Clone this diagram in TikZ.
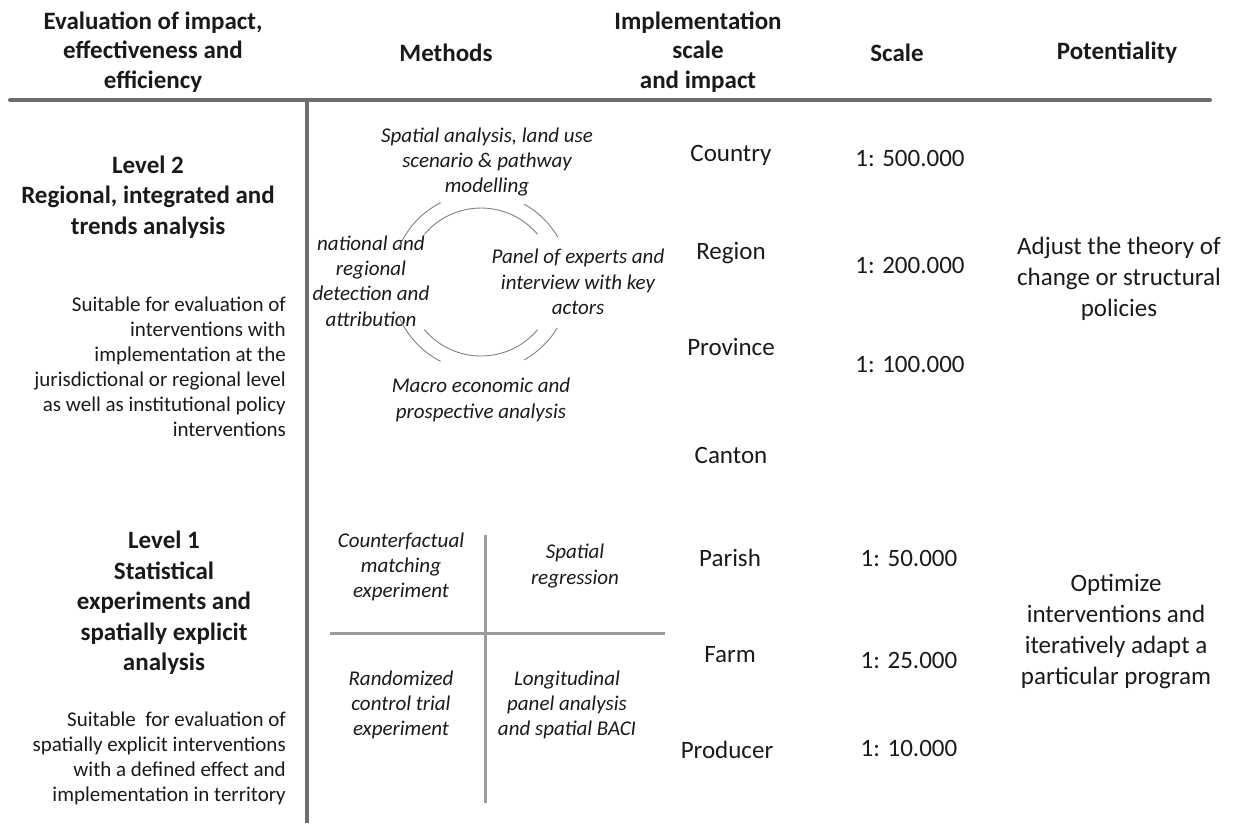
\documentclass[tikz,border=0pt]{standalone}
\usepackage{fontspec}
\setmainfont{Carlito}
\definecolor{rulegray}{HTML}{6E6E6E}
\definecolor{crossgray}{HTML}{9C9C9C}
\definecolor{arcgray}{HTML}{808080}
\definecolor{txt}{HTML}{1A1A1A}
\tikzset{
  hdr/.style={align=center,inner sep=0pt,text=txt,font=\fontsize{25}{29.5}\selectfont\bfseries},
  lvl/.style={align=center,inner sep=0pt,text=txt,font=\fontsize{25}{30.5}\selectfont\bfseries},
  desc/.style={align=right,anchor=east,inner sep=0pt,text=txt,font=\fontsize{21}{25}\selectfont},
  meth/.style={align=center,inner sep=0pt,text=txt,font=\fontsize{21}{25.3}\selectfont\itshape},
  scl/.style={align=center,inner sep=0pt,text=txt,font=\fontsize{25}{31}\selectfont},
  mainrule/.style={draw=rulegray,line width=4pt,line cap=round},
  crossrule/.style={draw=crossgray,line width=3pt},
  ringarc/.style={draw=arcgray,line width=0.9pt},
}
\begin{document}
\begin{tikzpicture}[x=1pt,y=-1pt]
\useasboundingbox (0,0) rectangle (1233,823);
% headers
\node[hdr] (hEval) at (153,52) {Evaluation of impact,\\effectiveness and\\efficiency};
\node[hdr] (hMeth) at (446,53) {Methods};
\node[hdr] (hImpl) at (698,52) {Implementation\\scale\\and impact};
\node[hdr] (hScale) at (897,53) {Scale};
\node[hdr] (hPot) at (1117,53) {Potentiality};
% rules
\coordinate (rL) at (10,100);
\coordinate (rR) at (1210,100);
\coordinate (vT) at (307,100);
\coordinate (vB) at (307,823);
\draw[mainrule] (rL) -- (rR);
\draw[draw=rulegray,line width=4pt] (vT) -- (vB);
% left column
\node[lvl] (lv2) at (148,197) {Level 2\\Regional, integrated and\\trends analysis};
\node[desc] (d2) at (286,367) {Suitable for evaluation of\\interventions with\\implementation at the\\jurisdictional or regional level\\as well as institutional policy\\interventions};
\node[lvl] (lv1) at (164,603) {Level 1\\Statistical\\experiments and\\spatially explicit\\analysis};
\node[desc] (d1) at (286,758) {Suitable\ \ for evaluation of\\spatially explicit interventions\\with a defined effect and\\implementation in territory};
% methods level 2
\coordinate (cc) at (481,282);
\node[meth] (mTop) at (487,162) {Spatial analysis, land use\\scenario \& pathway\\modelling};
\node[meth] (mLeft) at (371,281) {national and\\regional\\detection and\\attribution};
\node[meth] (mRight) at (578,282) {Panel of experts and\\interview with key\\actors};
\node[meth] (mBot) at (481,400) {Macro economic and\\prospective analysis};
\draw[ringarc] (cc) ++(40:74pt) arc[start angle=40,end angle=140,radius=74pt];
\draw[ringarc] (cc) ++(220:74pt) arc[start angle=220,end angle=320,radius=74pt];
\draw[ringarc] (cc) ++(30:89pt) arc[start angle=30,end angle=61,radius=89pt];
\draw[ringarc] (cc) ++(117:89pt) arc[start angle=117,end angle=157,radius=89pt];
\draw[ringarc] (cc) ++(203:89pt) arc[start angle=203,end angle=243,radius=89pt];
\draw[ringarc] (cc) ++(299:89pt) arc[start angle=299,end angle=329,radius=89pt];
% methods level 1
\coordinate (xT) at (485,535);
\coordinate (xB) at (485,803);
\coordinate (xL) at (330,633);
\coordinate (xR) at (665,633);
\draw[crossrule] (xT) -- (xB);
\draw[crossrule] (xL) -- (xR);
\node[meth] (mCF) at (401,567) {Counterfactual\\matching\\experiment};
\node[meth] (mSR) at (575,566) {Spatial\\regression};
\node[meth] (mRCT) at (401,705) {Randomized\\control trial\\experiment};
\node[meth] (mLP) at (567,705) {Longitudinal\\panel analysis\\and spatial BACI};
% implementation scale
\node[scl] (iCountry) at (731,155) {Country};
\node[scl] (iRegion) at (731,253) {Region};
\node[scl] (iProvince) at (731,347) {Province};
\node[scl] (iCanton) at (731,455) {Canton};
\node[scl] (iParish) at (730,558) {Parish};
\node[scl] (iFarm) at (730,655) {Farm};
\node[scl] (iProducer) at (727,750) {Producer};
% scale
\node[scl] (s1) at (910,158) {1: 500.000};
\node[scl] (s2) at (910,265) {1: 200.000};
\node[scl] (s3) at (910,364) {1: 100.000};
\node[scl] (s4) at (909,558) {1: 50.000};
\node[scl] (s5) at (909,660) {1: 25.000};
\node[scl] (s6) at (909,748) {1: 10.000};
% potentiality
\node[scl] (p1) at (1119,279) {Adjust the theory of\\change or structural\\policies};
\node[scl] (p2) at (1116,631) {Optimize\\interventions and\\iteratively adapt a\\particular program};
\end{tikzpicture}
\end{document}
